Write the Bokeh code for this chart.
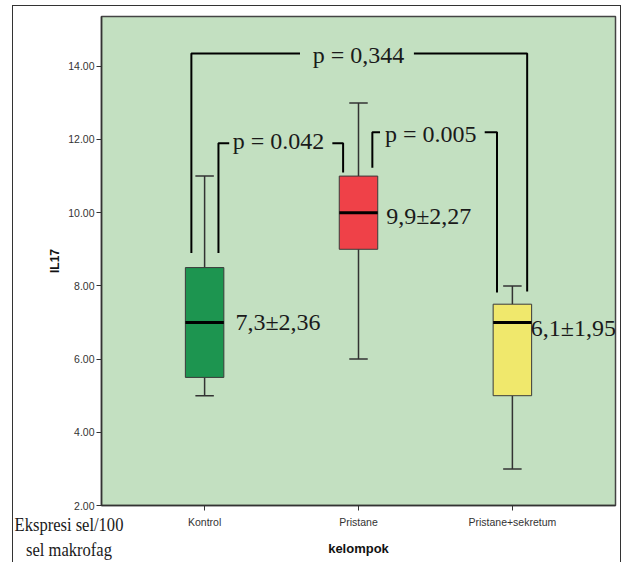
from bokeh.plotting import figure
from bokeh.models import ColumnDataSource, FixedTicker, NumeralTickFormatter, Div, Range1d
from bokeh.embed import file_html
from bokeh.resources import INLINE
from bokeh.core.properties import value

# ---- data ----
groups = ["Kontrol", "Pristane", "Pristane+sekretum"]
whisker_low = [5.0, 6.0, 3.0]
q1 = [5.5, 9.0, 5.0]
median = [7.0, 10.0, 7.0]
q3 = [8.5, 11.0, 7.5]
whisker_high = [11.0, 13.0, 8.0]
stat_labels = ["7,3±2,36", "9,9±2,27", "6,1±1,95"]
y_ticks = [2, 4, 6, 8, 10, 12, 14]
p_labels = ["p = 0,344", "p = 0.042", "p = 0.005"]
pairs = [(0, 2), (0, 1), (1, 2)]
caption = ["Ekspresi sel/100", "sel makrofag"]

# ---- styling / layout ----
box_colors = ["#1d9550", "#ef4148", "#f0e86c"]
xpos = [i + 1 for i in range(len(groups))]
BOX_W = 0.25
CAP_W = 0.12
SERIF = "Liberation Serif"
SANS = "Liberation Sans"

p = figure(width=609, height=557, output_backend="svg", toolbar_location=None,
           x_range=Range1d(0.33, 3.67), y_range=Range1d(2.0, 15.36),
           min_border_left=88, min_border_right=7, min_border_top=10, min_border_bottom=58)
p.styles = {"margin-left": "12px", "margin-top": "5px",
            "border-left": "1.5px solid #333", "border-top": "1.5px solid #333",
            "border-right": "1.5px solid #333"}

p.background_fill_color = "#c3e0c1"
p.border_fill_color = "white"
p.outline_line_color = "#444444"
p.outline_line_width = 1.5
p.xgrid.visible = False
p.ygrid.visible = False

src = ColumnDataSource(dict(x=xpos, lo=whisker_low, q1=q1, med=median, q3=q3, hi=whisker_high,
                            color=box_colors,
                            cap_l=[x - CAP_W / 2 for x in xpos], cap_r=[x + CAP_W / 2 for x in xpos],
                            box_l=[x - BOX_W / 2 for x in xpos], box_r=[x + BOX_W / 2 for x in xpos]))

# whiskers
p.segment(x0="x", y0="q3", x1="x", y1="hi", source=src, line_color="#333333", line_width=1.5)
p.segment(x0="x", y0="q1", x1="x", y1="lo", source=src, line_color="#333333", line_width=1.5)
p.segment(x0="cap_l", y0="hi", x1="cap_r", y1="hi", source=src, line_color="#333333", line_width=1.5)
p.segment(x0="cap_l", y0="lo", x1="cap_r", y1="lo", source=src, line_color="#333333", line_width=1.5)
# boxes
p.vbar(x="x", width=BOX_W, bottom="q1", top="q3", source=src, fill_color="color",
       line_color="#3a3a3a", line_width=1)
# medians
p.segment(x0="box_l", y0="med", x1="box_r", y1="med", source=src, line_color="black", line_width=3)

# mean +- sd labels next to boxes
stat_dx = [0.2, 0.18, 0.12]
stat_y = [7.0, 9.92, 6.86]
p.text(x=[x + d for x, d in zip(xpos, stat_dx)], y=stat_y, text=stat_labels,
       text_font=value(SERIF), text_font_size="24px", text_color="#1a1a1a",
       text_align="left", text_baseline="middle")

# significance brackets: (level, left foot dx, left foot bottom, right foot dx, right foot bottom, gap_l, gap_r, text x, text y)
bracket_geom = [
    (14.35, -0.086, 8.9, 0.096, 7.85, 1.62, 2.36, 2.0, 14.3),
    (11.9, 0.09, 8.9, -0.1, 11.1, 1.16, 1.83, 1.48, 11.97),
    (12.2, 0.09, 11.23, -0.1, 7.82, 2.14, 2.82, 2.47, 12.16),
]
xs, ys, tx, ty = [], [], [], []
for (a, b), g in zip(pairs, bracket_geom):
    level, dl, bl, dr, br, gl, gr, txx, tyy = g
    xl = xpos[a] + dl
    xr = xpos[b] + dr
    xs += [[xl, xl, gl], [gr, xr, xr]]
    ys += [[bl, level, level], [level, level, br]]
    tx.append(txx)
    ty.append(tyy)
p.multi_line(xs=xs, ys=ys, line_color="black", line_width=2)
p.text(x=tx, y=ty, text=p_labels, text_font=value(SERIF), text_font_size="24px",
       text_color="#1a1a1a", text_align="center", text_baseline="middle")

# axes
p.yaxis.ticker = FixedTicker(ticks=y_ticks)
p.yaxis.formatter = NumeralTickFormatter(format="0.00")
p.xaxis.ticker = FixedTicker(ticks=xpos)
p.xaxis.major_label_overrides = {x: g for x, g in zip(xpos, groups)}
for ax in (p.xaxis, p.yaxis):
    ax.minor_tick_line_color = None
    ax.major_tick_in = 0
    ax.major_tick_out = 5
    ax.major_tick_line_color = "#333333"
    ax.axis_line_color = "#333333"
    ax.axis_line_width = 1.5
    ax.major_label_text_font = SANS
    ax.major_label_text_font_size = "10.5px"
    ax.major_label_text_color = "#333333"
    ax.axis_label_text_font = SANS
    ax.axis_label_text_font_style = "bold"
    ax.axis_label_text_color = "#111111"
p.yaxis.major_label_standoff = 2
p.xaxis.major_label_standoff = 5
p.yaxis.axis_label = "IL17"
p.yaxis.axis_label_text_font_size = "12px"
p.yaxis.axis_label_standoff = 3
p.xaxis.axis_label = "kelompok"
p.xaxis.axis_label_text_font_size = "13px"
p.xaxis.axis_label_standoff = 10

# caption in the lower-left corner, outside the plot frame
cap = Div(text="<br>".join(caption), width=130, height=52,
          styles={"position": "absolute", "left": "4px", "top": "512px",
                  "font-family": SERIF, "font-size": "19px", "line-height": "25px",
                  "text-align": "center", "color": "#1a1a1a", "margin": "0",
                  "padding": "0", "transform": "scaleX(0.87)",
                  "transform-origin": "center"})

open("out.html", "w").write(file_html([p, cap], INLINE))
